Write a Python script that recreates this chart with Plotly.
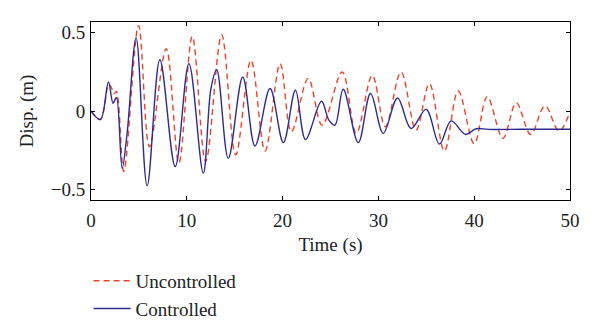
import plotly.graph_objects as go

# Controlled response (read extrema / key points)
t_ctrl = [0, 0.98, 1.82, 2.3, 2.65, 3.25, 3.77, 4.71, 5.86, 7.19, 8.79, 10.22, 11.72,
          12.52, 13.12, 14.33, 15.84, 17.12, 18.69, 20.08, 21.34, 22.39, 24.06, 24.83,
          25.46, 26.33, 27.90, 29.18, 30.51, 32.00, 33.41, 34.98, 36.37, 37.60, 39.09,
          40.20, 41.5, 45.0, 50.0]
d_ctrl = [0, -0.053, 0.185, 0.05, 0.087, -0.363, -0.14, 0.466, -0.475, 0.327, -0.352,
          0.302, -0.394, 0.144, 0.264, -0.300, 0.217, -0.222, 0.144, -0.200, 0.133,
          -0.180, 0.063, -0.057, -0.089, 0.139, -0.200, 0.112, -0.141, 0.084, -0.110,
          0.011, -0.209, -0.062, -0.148, -0.112, -0.116, -0.115, -0.115]

# Uncontrolled response
t_unc = [0, 0.98, 1.85, 2.13, 2.4, 2.65, 3.42, 4.96, 6.10, 7.85, 9.17, 10.57, 11.97,
         13.64, 15.10, 16.70, 18.17, 19.74, 20.92, 22.67, 24.13, 26.22, 27.69, 29.36,
         30.72, 32.36, 33.93, 35.32, 36.89, 38.33, 40.00, 41.36, 43.00, 44.39, 45.89,
         47.39, 48.85, 50.0]
d_unc = [0, -0.053, 0.17, 0.15, 0.11, 0.125, -0.384, 0.544, -0.226, 0.397, -0.33,
         0.475, -0.320, 0.485, -0.278, 0.323, -0.253, 0.302, -0.131, 0.207, -0.089,
         0.249, -0.141, 0.228, -0.099, 0.249, -0.120, 0.175, -0.253, 0.128, -0.207,
         0.091, -0.173, 0.053, -0.148, 0.034, -0.127, -0.004]

x_ticks = [0, 10, 20, 30, 40, 50]
y_ticks = [-0.5, 0, 0.5]
y_tick_text = ["\u22120.5", "0", "0.5"]

FONT = "Liberation Serif"
FS = 19
TXT = "#222"
RED = "#E8452C"
BLUE = "#2E2B8F"

fig = go.Figure()
fig.add_trace(go.Scatter(x=t_unc, y=d_unc, mode="lines", name="Uncontrolled",
                         line=dict(color=RED, width=1.4, dash="6px,4px", shape="spline", smoothing=1.0)))
fig.add_trace(go.Scatter(x=t_ctrl, y=d_ctrl, mode="lines", name="Controlled",
                         line=dict(color=BLUE, width=1.4, shape="spline", smoothing=1.0)))

axis_common = dict(showline=True, linecolor="black", linewidth=1, mirror="ticks",
                   ticks="inside", ticklen=4, tickcolor="black", showgrid=False,
                   zeroline=False, automargin=False,
                   tickfont=dict(family=FONT, size=FS, color=TXT))

fig.update_xaxes(range=[0, 50], tickvals=x_ticks, ticklabelstandoff=3,
                 title=dict(text="Time (s)", font=dict(family=FONT, size=FS, color=TXT), standoff=7),
                 **axis_common)
fig.update_yaxes(range=[-0.565, 0.567], tickvals=y_ticks, ticktext=y_tick_text, ticklabelstandoff=1,
                 title=dict(text="Disp. (m)", font=dict(family=FONT, size=FS, color=TXT), standoff=12),
                 **axis_common)

fig.update_layout(
    width=600, height=334,
    margin=dict(l=91, r=30, t=22, b=134, autoexpand=False),
    paper_bgcolor="white", plot_bgcolor="white",
    font=dict(family=FONT, size=FS, color=TXT),
    legend=dict(x=-0.005, xanchor="left", y=-0.348, yanchor="top",
                font=dict(family=FONT, size=FS, color=TXT), itemwidth=37,
                bgcolor="rgba(0,0,0,0)", tracegroupgap=0),
    showlegend=True,
)

fig.write_html("out.html")
